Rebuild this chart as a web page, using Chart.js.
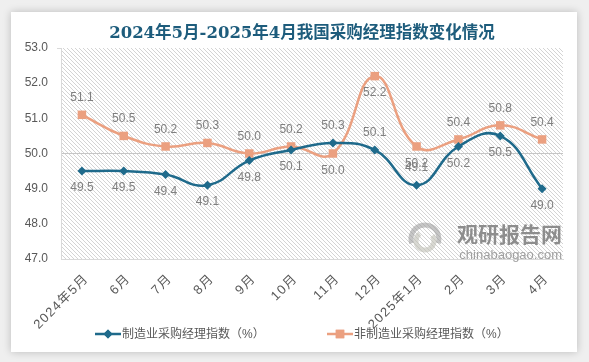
<!DOCTYPE html>
<html>
<head>
<meta charset="utf-8">
<script src="https://cdn.jsdelivr.net/npm/chart.js@4.4.1/dist/chart.umd.min.js"></script>
<style>
  html, body { margin: 0; padding: 0; background: #efefef; }
  body { width: 589px; height: 362px; position: relative; overflow: hidden; }
  #card { position: absolute; left: 11px; top: 12px; width: 566px; height: 340px; background: #fff; box-shadow: 0 0 8px rgba(0,0,0,0.22); }
  canvas { display: block; }
</style>
</head>
<body>
<div id="card"><canvas id="pmi" width="566" height="340"></canvas></div>
<script>
// 数据
const months = ['2024年5月', '6月', '7月', '8月', '9月', '10月', '11月', '12月', '2025年1月', '2月', '3月', '4月'];
const manufacturing = [49.5, 49.5, 49.4, 49.1, 49.8, 50.1, 50.3, 50.1, 49.1, 50.2, 50.5, 49.0];
const nonManufacturing = [51.1, 50.5, 50.2, 50.3, 50.0, 50.2, 50.0, 52.2, 50.2, 50.4, 50.8, 50.4];
const seriesNames = ['制造业采购经理指数（%）', '非制造业采购经理指数（%）'];
const chartTitle = '2024年5月-2025年4月我国采购经理指数变化情况';
const yMin = 47, yMax = 53, yStep = 1;

// 标签放在点的上方(-1)或下方(1)
const mfgLabelSide = [1, 1, 1, 1, 1, 1, -1, -1, -1, 1, 1, 1];
const nonMfgLabelSide = [-1, -1, -1, -1, -1, -1, 1, 1, 1, -1, -1, -1];

const FONT = "'Liberation Sans', 'Noto Sans CJK SC', sans-serif";
const BLUE = '#1f6a8b';
const ORANGE = '#eba080';

// 斜线底纹
const hatchPlugin = {
  id: 'hatch',
  beforeDraw(chart) {
    const { ctx, chartArea: a } = chart;
    const c = document.createElement('canvas');
    c.width = 4; c.height = 4;
    const g = c.getContext('2d');
    g.strokeStyle = '#d4d4d4';
    g.lineWidth = 1;
    g.beginPath();
    g.moveTo(-1, -1); g.lineTo(5, 5);
    g.moveTo(-1, 3); g.lineTo(1, 5);
    g.moveTo(3, -1); g.lineTo(5, 1);
    g.stroke();
    ctx.save();
    ctx.fillStyle = ctx.createPattern(c, 'repeat');
    ctx.fillRect(a.left, a.top, a.right - a.left, a.bottom - a.top);
    ctx.restore();
  }
};

// 水印
const watermarkPlugin = {
  id: 'watermark',
  beforeDatasetsDraw(chart) {
    const ctx = chart.ctx;
    ctx.save();
    ctx.lineWidth = 5;
    ctx.strokeStyle = 'rgba(150,150,150,0.55)';
    ctx.beginPath();
    ctx.arc(414, 227, 14, Math.PI * 0.9, Math.PI * 2.1);
    ctx.stroke();
    ctx.strokeStyle = 'rgba(190,190,180,0.6)';
    ctx.beginPath();
    ctx.arc(414, 229, 9, Math.PI * 1.8, Math.PI * 3.3);
    ctx.stroke();
    ctx.fillStyle = '#8d8d8d';
    ctx.font = "bold 21px 'Noto Sans CJK SC'";
    ctx.textAlign = 'right';
    ctx.textBaseline = 'middle';
    ctx.fillText('观研报告网', 551, 222);
    ctx.fillStyle = '#a0a0a0';
    ctx.font = "13px " + FONT;
    ctx.fillText('chinabaogao.com', 551, 243);
    ctx.restore();
  }
};

// 数据标签
const valueLabelPlugin = {
  id: 'valueLabels',
  afterDatasetsDraw(chart) {
    const ctx = chart.ctx;
    const sides = [mfgLabelSide, nonMfgLabelSide];
    ctx.save();
    ctx.font = '12px ' + FONT;
    ctx.fillStyle = '#7f7f7f';
    ctx.textAlign = 'center';
    ctx.textBaseline = 'middle';
    chart.data.datasets.forEach((ds, d) => {
      chart.getDatasetMeta(d).data.forEach((pt, i) => {
        const off = sides[d][i] > 0 ? 17 : -17;
        ctx.fillText(ds.data[i].toFixed(1), pt.x, pt.y + off);
      });
    });
    ctx.restore();
  }
};

// 标题、X轴斜标签、图例
const decorPlugin = {
  id: 'decor',
  afterDraw(chart) {
    const ctx = chart.ctx;
    const xs = chart.scales.x;
    ctx.save();
    // 标题
    ctx.fillStyle = '#1d5c7c';
    ctx.font = "bold 16.5px 'DejaVu Serif', 'Noto Sans CJK SC', serif";
    ctx.textAlign = 'center';
    ctx.textBaseline = 'middle';
    ctx.fillText(chartTitle, 291, 22);

    // X轴标签 (45度)
    ctx.fillStyle = '#595959';
    ctx.font = '13px ' + FONT;
    if ('letterSpacing' in ctx) ctx.letterSpacing = '1.3px';
    months.forEach((m, i) => {
      const x = xs.getPixelForTick(i);
      ctx.save();
      ctx.translate(x, xs.top + 13);
      ctx.rotate(-Math.PI / 4);
      ctx.textAlign = 'right';
      ctx.textBaseline = 'top';
      ctx.fillText(m, 0, 0);
      ctx.restore();
    });
    if ('letterSpacing' in ctx) ctx.letterSpacing = '0px';

    // 图例
    const y = 322;
    const items = [
      { x: 84, color: BLUE, style: 'rectRot', r: 4.5 },
      { x: 316, color: ORANGE, style: 'rect', r: 6 }
    ];
    items.forEach((it, i) => {
      ctx.strokeStyle = it.color;
      ctx.lineWidth = 2.5;
      ctx.beginPath();
      ctx.moveTo(it.x, y);
      ctx.lineTo(it.x + 26, y);
      ctx.stroke();
      ctx.fillStyle = it.color;
      Chart.helpers.drawPoint(ctx, { pointStyle: it.style, radius: it.r, borderWidth: 0 }, it.x + 13, y);
      ctx.fill();
      ctx.fillStyle = '#595959';
      ctx.font = '12px ' + FONT;
      ctx.textAlign = 'left';
      ctx.textBaseline = 'middle';
      ctx.fillText(seriesNames[i], it.x + 27, y + 1);
    });
    ctx.restore();
  }
};

const ctx = document.getElementById('pmi').getContext('2d');
new Chart(ctx, {
  type: 'line',
  data: {
    labels: months,
    datasets: [
      {
        label: seriesNames[0],
        data: manufacturing,
        borderColor: BLUE,
        backgroundColor: BLUE,
        borderWidth: 2.5,
        pointStyle: 'rectRot',
        pointRadius: 4.5,
        pointBorderWidth: 0,
        tension: 0.45
      },
      {
        label: seriesNames[1],
        data: nonManufacturing,
        borderColor: ORANGE,
        backgroundColor: ORANGE,
        borderWidth: 2.5,
        pointStyle: 'rect',
        pointRadius: 6,
        pointBorderWidth: 0,
        tension: 0.45
      }
    ]
  },
  options: {
    responsive: false,
    animation: false,
    layout: { padding: { left: 0, right: 14, top: 36, bottom: 0 } },
    plugins: {
      legend: { display: false },
      tooltip: { enabled: false },
      title: { display: false }
    },
    scales: {
      x: {
        offset: true,
        grid: { display: false, drawTicks: false },
        border: { display: true, color: '#d9d9d9', width: 1 },
        ticks: { display: false },
        afterFit(scale) { scale.height = 93; }
      },
      y: {
        min: yMin,
        max: yMax,
        grid: {
          color: c => (c.tick && c.tick.value === 50 ? '#c6c6c6' : 'rgba(0,0,0,0)'),
          tickLength: 4,
          tickColor: c => (c.tick && c.tick.value === yMax ? '#d9d9d9' : 'rgba(0,0,0,0)')
        },
        border: { display: true, color: '#d9d9d9', width: 1 },
        ticks: {
          stepSize: yStep,
          padding: 9,
          color: '#595959',
          font: { size: 12, family: FONT },
          callback: v => v.toFixed(1)
        },
        afterFit(scale) { scale.width = 50; }
      }
    }
  },
  plugins: [hatchPlugin, watermarkPlugin, valueLabelPlugin, decorPlugin]
});
</script>
</body>
</html>
